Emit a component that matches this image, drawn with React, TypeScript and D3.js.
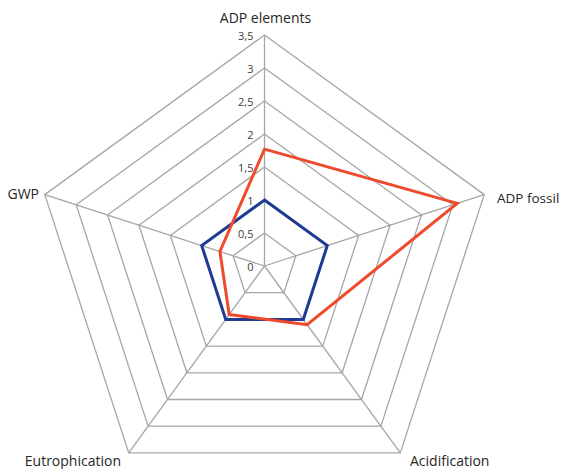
import React from "react";
import * as d3 from "d3";

const categories = ["ADP elements", "ADP fossil", "Acidification", "Eutrophication", "GWP"];
const seriesBlue = [1, 1, 1, 1, 1];
const seriesRed = [1.77, 3.07, 1.1, 0.91, 0.71];
const tickValues = [0, 0.5, 1, 1.5, 2, 2.5, 3, 3.5];
const tickLabels = ["0", "0,5", "1", "1,5", "2", "2,5", "3", "3,5"];

const W = 562;
const H = 469;
const cx = 264.5;
const cy = 266;
const R = 231;

export default function App() {
  const r = d3.scaleLinear().domain([0, 3.5]).range([0, R]);
  const angle = d3
    .scaleLinear()
    .domain([0, categories.length])
    .range([0, 2 * Math.PI]);
  const pt = (i: number, v: number): [number, number] => {
    const a = angle(i);
    return [cx + r(v) * Math.sin(a), cy - r(v) * Math.cos(a)];
  };
  const closed = d3.line().curve(d3.curveLinearClosed);

  const ringPaths = tickValues
    .filter((t) => t > 0)
    .map((t) => closed(categories.map((_, i) => pt(i, t))) as string);

  const labelPos: { x: number; y: number; anchor: string; size: number }[] = [
    { x: cx + 1, y: 17, anchor: "middle", size: 14 },
    { x: 497, y: 198, anchor: "start", size: 13.5 },
    { x: 410, y: 460, anchor: "start", size: 14 },
    { x: 121, y: 460, anchor: "end", size: 14 },
    { x: 39, y: 193, anchor: "end", size: 14 },
  ];

  const font = "'Open Sans', sans-serif";

  return (
    <svg width={W} height={H} style={{ position: "absolute", left: 0, top: 0 }}>
      <rect width={W} height={H} fill="#ffffff" />
      <g fill="none" stroke="#a6a6a6" strokeWidth={1.3}>
        {ringPaths.map((d, i) => (
          <path key={i} d={d} />
        ))}
        {categories.map((_, i) => {
          const [x, y] = pt(i, 3.5);
          return <line key={i} x1={cx} y1={cy} x2={x} y2={y} />;
        })}
      </g>
      <g fontFamily={font} fontSize={11} fill="#404040" textAnchor="end">
        {tickValues.map((t, i) => (
          <text key={i} x={cx - 11} y={cy - r(t)} dominantBaseline="central">
            {tickLabels[i]}
          </text>
        ))}
      </g>
      <path
        d={closed(seriesBlue.map((v, i) => pt(i, v))) as string}
        fill="none"
        stroke="#1f3a93"
        strokeWidth={3}
        strokeLinejoin="miter"
      />
      <path
        d={closed(seriesRed.map((v, i) => pt(i, v))) as string}
        fill="none"
        stroke="#ef4a2b"
        strokeWidth={3}
        strokeLinejoin="miter"
      />
      <g fontFamily={font} fill="#262626">
        {categories.map((c, i) => (
          <text
            key={i}
            x={labelPos[i].x}
            y={labelPos[i].y}
            fontSize={labelPos[i].size}
            textAnchor={labelPos[i].anchor}
            dominantBaseline="central"
          >
            {c}
          </text>
        ))}
      </g>
    </svg>
  );
}
